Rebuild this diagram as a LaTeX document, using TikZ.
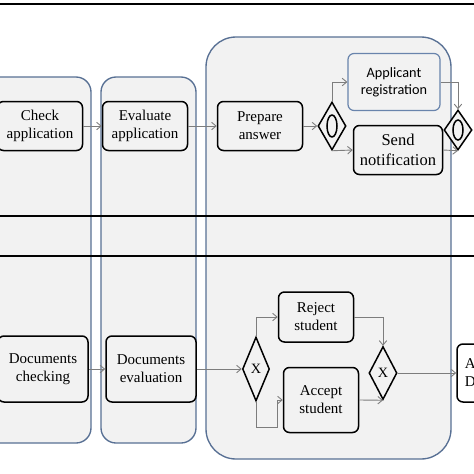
\documentclass[tikz,border=0pt]{standalone}
\usepackage{fontspec}
\setmainfont{Liberation Serif}
\newfontfamily\regfont{Carlito}
\usetikzlibrary{shapes.geometric,arrows.meta}

\newlength\pxu
\setlength\pxu{0.6667pt}

\definecolor{groupfill}{RGB}{242,242,242}
\definecolor{groupline}{RGB}{88,112,148}
\definecolor{regline}{RGB}{105,132,172}
\definecolor{flowgray}{RGB}{125,125,125}

\tikzset{
  group/.style={draw=groupline, line width=0.9pt, fill=groupfill},
  lane/.style={black, line width=1pt},
  task/.style={draw=black, line width=1pt, fill=groupfill, rounded corners=4pt,
    align=center, inner sep=0pt, minimum width=85\pxu, minimum height=49\pxu},
  gateway/.style={diamond, draw=black, line width=1pt, fill=groupfill, inner sep=0pt,
    font=\fontsize{9.5}{11}\selectfont},
  flow/.style={draw=flowgray, line width=0.6pt, -{Straight Barb[length=3pt,width=5pt]}},
}

\begin{document}
\begin{tikzpicture}[x=0.6667pt, y=-0.6667pt]
	% Frame
	\useasboundingbox (0,0) rectangle (474,474);
	\clip (0,0) rectangle (474,474);
	
	% Groups
	\draw[group, rounded corners=10pt] (-40,77) rectangle (91,443);
	\draw[group, rounded corners=10pt] (101,77) rectangle (196,443);
	\draw[group, rounded corners=20pt] (206,37) rectangle (451,459);
	
	% Lanes
	\draw[lane, line width=1.3pt] (0,4) -- (474,4);
	\draw[lane] (0,216) -- (474,216);
	\draw[lane] (0,256) -- (474,256);
	
	% Upper lane
	\node[task] (check) at (40,126) {Check\\application};
	\node[task] (eval) at (145,126) {Evaluate\\application};
	\node[task] (prep) at (260,126) {Prepare\\answer};
	\node[gateway, minimum width=28\pxu, minimum height=48\pxu] (gwo1) at (332,126) {};
	\node[task, draw=regline, line width=0.8pt, minimum width=92\pxu, minimum height=57\pxu,
	  font=\regfont\fontsize{9.5}{11.5}\selectfont] (reg) at (394,82) {Applicant\\registration};
	\node[task, minimum width=89\pxu, font=\fontsize{11}{13}\selectfont] (note) at (398,150) {Send\\notification};
	\node[gateway, minimum width=28\pxu, minimum height=40\pxu] (gwo2) at (458,130) {};
	\draw[line width=1pt] (gwo1) ellipse [x radius=5, y radius=11];
	\draw[line width=1pt] (gwo2) ellipse [x radius=5, y radius=10];
	
	% Lower lane
	\node[task, minimum width=90\pxu, minimum height=66\pxu] (dcheck) at (43,369) {Documents\\checking};
	\node[task, minimum width=90\pxu, minimum height=66\pxu] (deval) at (151,369) {Documents\\evaluation};
	\node[gateway, minimum width=27\pxu, minimum height=64\pxu] (gwa) at (256,369) {X};
	\node[task, minimum width=75\pxu, minimum height=50\pxu] (rej) at (316,317) {Reject\\student};
	\node[task, minimum width=75\pxu, minimum height=65\pxu] (acc) at (321,400) {Accept\\student};
	\node[gateway, minimum width=28\pxu, minimum height=53\pxu] (gwb) at (383,373) {X};
	\node[task, fill=white, minimum width=86\pxu, minimum height=58\pxu,
	  text width=70\pxu, align=left] (admit) at (500,373) {A\\D};
	
	% Flows
	\draw[flow] (check) -- (eval);
	\draw[flow] (eval) -- (prep);
	\draw[flow] (prep) -- (gwo1);
	\draw[flow] (gwo1.north) |- (reg.west);
	\draw[flow] (gwo1.south) -- (note.west);
	\draw[flow] (reg.east) -| (gwo2.north);
	\draw[flow] (note.east) -- (gwo2.south);
	
	\draw[flow] (dcheck) -- (deval);
	\draw[flow] (deval) -- (gwa);
	\draw[flow] (gwa.north) |- (rej.west);
	\draw[flow] (gwa.south) -- ++(0,26) -- ++(21,0) |- (acc.west);
	\draw[flow] (rej.east) -| (gwb.north);
	\draw[flow] (acc.east) -- (gwb.south);
	\draw[flow] (gwb) -- (admit);
\end{tikzpicture}
\end{document}
